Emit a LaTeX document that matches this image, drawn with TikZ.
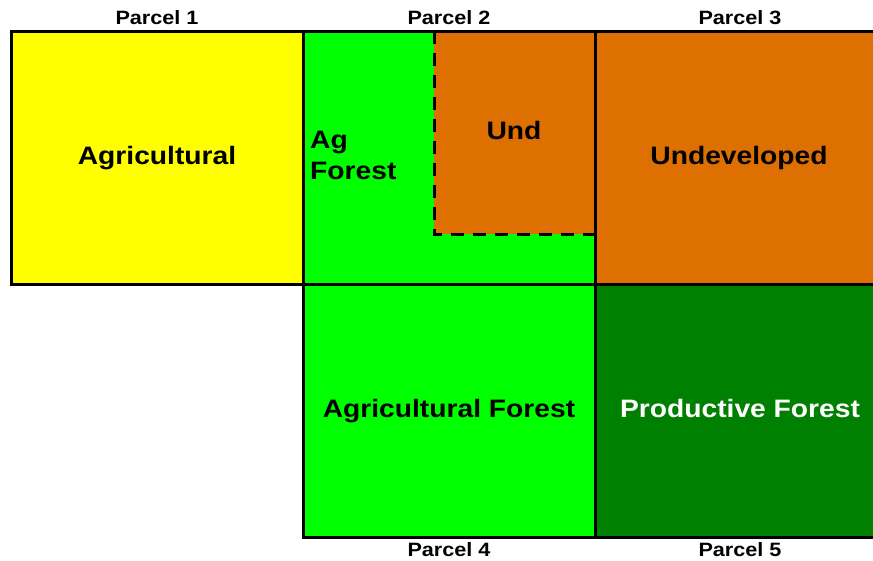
\documentclass[tikz,border=0pt]{standalone}
\usepackage{fontspec}
\setmainfont{Liberation Sans}[FakeStretch=1.12]
\definecolor{agyellow}{RGB}{255,255,0}
\definecolor{aggreen}{RGB}{0,255,0}
\definecolor{undorange}{RGB}{221,112,0}
\definecolor{prodgreen}{RGB}{0,128,0}
\begin{document}
\begin{tikzpicture}[x=1pt,y=-1pt,
  parcel/.style={draw=black,line width=3pt},
  big/.style={font=\bfseries\fontsize{25.2}{30}\selectfont,anchor=base,inner sep=0pt},
  small/.style={font=\bfseries\fontsize{19.3}{22}\selectfont,anchor=base,inner sep=0pt},
  dashline/.style={draw=black,line width=3pt,dash pattern=on 13pt off 9pt}]
\useasboundingbox (0,0) rectangle (873,560);
\clip (0,0) rectangle (873,560);
% fills
\fill[agyellow] (11,31) rectangle (303,284);
\fill[aggreen] (303,31) rectangle (595,284);
\fill[undorange] (434,31) rectangle (595,234);
\fill[undorange] (595,31) rectangle (887,284);
\fill[aggreen] (303,284) rectangle (595,537);
\fill[prodgreen] (595,284) rectangle (887,537);
% dashed sub-area
\coordinate (u1) at (434,31);
\coordinate (u2) at (434,234);
\coordinate (u3) at (595,234);
\draw[dashline] (u1) -- (u2) -- (u3);
% parcel borders
\draw[parcel] (11,31) rectangle (303,284);
\draw[parcel] (303,31) rectangle (595,284);
\draw[parcel] (595,31) rectangle (887,284);
\draw[parcel] (303,284) rectangle (595,537);
\draw[parcel] (595,284) rectangle (887,537);
% texts
\node[big] (t1) at (157,164) {Agricultural};
\node[big,anchor=base west] (t2a) at (310,148) {Ag};
\node[big,anchor=base west] (t2b) at (310,179) {Forest};
\node[big] (t2u) at (514,139) {Und};
\node[big] (t3) at (739,164) {Undeveloped};
\node[big] (t4) at (449,417) {Agricultural Forest};
\node[big,text=white] (t5) at (740,417) {Productive Forest};
% parcel labels
\node[small] (p1) at (157,24) {Parcel 1};
\node[small] (p2) at (449,24) {Parcel 2};
\node[small] (p3) at (740,24) {Parcel 3};
\node[small] (p4) at (449,556) {Parcel 4};
\node[small] (p5) at (740,556) {Parcel 5};
\end{tikzpicture}
\end{document}
